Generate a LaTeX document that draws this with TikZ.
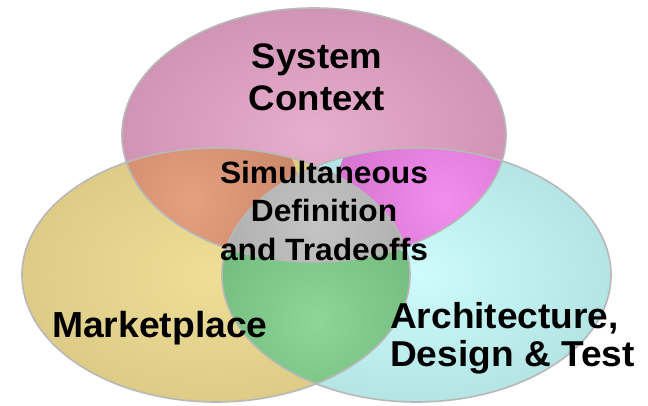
\documentclass[tikz,border=0pt]{standalone}
\usepackage{fontspec}
\setmainfont{Liberation Sans}[FakeStretch=1.03]
\definecolor{pinkIn}{RGB}{232,174,206}
\definecolor{pinkOut}{RGB}{208,148,180}
\definecolor{yellowIn}{RGB}{238,222,150}
\definecolor{yellowOut}{RGB}{222,204,134}
\definecolor{cyanIn}{RGB}{206,252,252}
\definecolor{cyanOut}{RGB}{180,228,228}
\definecolor{salmonIn}{RGB}{228,160,128}
\definecolor{salmonOut}{RGB}{204,136,106}
\definecolor{orchidIn}{RGB}{242,142,238}
\definecolor{orchidOut}{RGB}{214,116,208}
\definecolor{greenIn}{RGB}{140,214,150}
\definecolor{greenOut}{RGB}{118,188,128}
\definecolor{grayIn}{RGB}{196,196,196}
\definecolor{grayOut}{RGB}{176,176,176}
\definecolor{rim}{RGB}{184,184,184}
\tikzset{
  rimline/.style={draw=rim, line width=1.6pt},
  biglabel/.style={inner sep=0pt, font=\bfseries\fontsize{35.5}{42.5}\selectfont, text=black},
  midlabel/.style={inner sep=0pt, align=center, font=\bfseries\fontsize{30.8}{38.5}\selectfont, text=black}
}
\begin{document}
\begin{tikzpicture}[x=1pt,y=-1pt]
\useasboundingbox[fill=white] (0,0) rectangle (648,405);
\coordinate (ctop) at (314,135);
\coordinate (cleft) at (216,275);
\coordinate (cright) at (416.5,275);
\coordinate (csal) at (190,200);
\coordinate (corc) at (445,200);
\coordinate (cgrn) at (316,320);
\coordinate (cgry) at (316,225);
\def\toppath{(ctop) ellipse [x radius=192pt, y radius=127pt]}
\def\leftpath{(cleft) ellipse [x radius=194pt, y radius=127pt]}
\def\rightpath{(cright) ellipse [x radius=194.5pt, y radius=127pt]}
% single ellipses
\shade[inner color=pinkIn, outer color=pinkOut] \toppath;
\shade[inner color=yellowIn, outer color=yellowOut] \leftpath;
\shade[inner color=cyanIn, outer color=cyanOut] \rightpath;
% top & left
\begin{scope}
  \clip \toppath; \clip \leftpath;
  \shade[inner color=salmonIn, outer color=salmonOut] (csal) circle (110pt);
\end{scope}
% top & right
\begin{scope}
  \clip \toppath; \clip \rightpath;
  \shade[inner color=orchidIn, outer color=orchidOut] (corc) circle (110pt);
\end{scope}
% left & right
\begin{scope}
  \clip \leftpath; \clip \rightpath;
  \shade[inner color=greenIn, outer color=greenOut] (cgrn) circle (110pt);
\end{scope}
% all three
\begin{scope}
  \clip \toppath; \clip \leftpath; \clip \rightpath;
  \shade[inner color=grayIn, outer color=grayOut] (cgry) circle (90pt);
\end{scope}
% rims
\draw[rimline] \toppath;
\draw[rimline] \leftpath;
\draw[rimline] \rightpath;
% labels (base anchor of a multi-line node = baseline of its last line)
\node[biglabel, align=center, anchor=base] (sys) at (317,110.5) {System\\Context};
\node[midlabel, anchor=base] (sim) at (324,260) {Simultaneous\\Definition\\and Tradeoffs};
\node[biglabel, anchor=base west, font=\bfseries\fontsize{36.2}{40}\selectfont] (mkt) at (52,337) {Marketplace};
\node[biglabel, align=left, anchor=base west, font=\bfseries\fontsize{36}{38}\selectfont] (arch) at (390,366) {Architecture,\\Design \& Test};
\end{tikzpicture}
\end{document}
